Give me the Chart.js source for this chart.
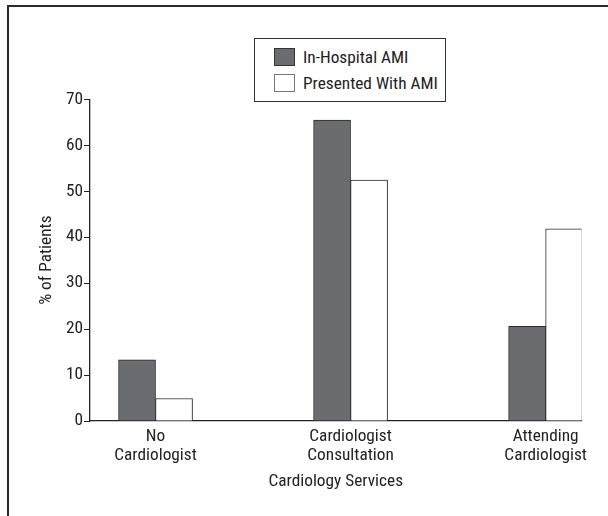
<!DOCTYPE html>
<html lang="en">
<head>
    <meta charset="UTF-8">
    <title>Cardiology Services</title>
    <style>
        body {
            margin: 0;
            background-color: #ffffff;
        }
        .wrap {
            position: relative;
            width: 608px;
            height: 516px;
            overflow: hidden;
        }
        .frame {
            position: absolute;
            left: 7px;
            top: 5px;
            width: 700px;
            height: 600px;
            border-top: 2px solid #2a2a2a;
            border-left: 2px solid #2a2a2a;
        }
        .legend-box {
            position: absolute;
            left: 254px;
            top: 38px;
            width: 190px;
            height: 62px;
            border: 1px solid #333;
            background: #fff;
            font-family: 'Roboto Condensed', Roboto, sans-serif;
            font-stretch: condensed;
            font-size: 17.3px;
            color: #222;
        }
        .legend-item {
            position: absolute;
            left: 19px;
            height: 19px;
            line-height: 19px;
            white-space: nowrap;
        }
        .legend-item span {
            display: inline-block;
            width: 21px;
            height: 18px;
            vertical-align: top;
            margin-right: 8px;
            box-sizing: border-box;
        }
        canvas {
            position: absolute;
            left: 0;
            top: 0;
        }
    </style>
    <script src="https://cdn.jsdelivr.net/npm/chart.js"></script>
</head>
<body>
    <div class="wrap">
        <div class="frame"></div>
        <canvas id="barChart" width="608" height="516"></canvas>
        <div id="legendBox" class="legend-box"></div>
    </div>
    <script>
        // datos
        const categories = [['No', 'Cardiologist'], ['Cardiologist', 'Consultation'], ['Attending', 'Cardiologist']];
        const inHospitalAMI = [13.3, 65.5, 20.6];
        const presentedWithAMI = [4.9, 52.4, 41.8];
        const seriesNames = ['In-Hospital AMI', 'Presented With AMI'];
        const yTicks = [0, 10, 20, 30, 40, 50, 60, 70];

        Chart.defaults.font.family = "'Roboto Condensed', Roboto, sans-serif";
        Chart.defaults.color = '#222';

        const toPoints = (vals) => vals.map((v, i) => ({ x: i, y: v }));

        const data = {
            datasets: [{
                label: seriesNames[0],
                data: toPoints(inHospitalAMI),
                backgroundColor: '#6b6c70',
                borderColor: '#2b2b2b',
                borderWidth: 1
            }, {
                label: seriesNames[1],
                data: toPoints(presentedWithAMI),
                backgroundColor: '#ffffff',
                borderColor: '#2b2b2b',
                borderWidth: 1
            }]
        };

        const config = {
            type: 'bar',
            data: data,
            options: {
                responsive: false,
                animation: false,
                layout: {
                    padding: { left: 0, right: 26.5, top: 99.3, bottom: 0 }
                },
                datasets: {
                    bar: { barThickness: 37, grouped: true }
                },
                plugins: {
                    legend: { display: false },
                    tooltip: { enabled: true }
                },
                scales: {
                    x: {
                        type: 'linear',
                        offset: false,
                        min: -0.336,
                        max: 2.184,
                        afterBuildTicks: (scale) => {
                            scale.ticks = categories.map((c, i) => ({ value: i }));
                        },
                        afterFit: (scale) => { scale.height = 95; },
                        grid: { display: true, drawOnChartArea: false, drawTicks: false },
                        border: { display: true, color: '#222', width: 1.3 },
                        ticks: {
                            font: { size: 17.3, lineHeight: 1.07 },
                            padding: 6.5,
                            maxRotation: 0,
                            autoSkip: false,
                            callback: (value) => categories[value]
                        },
                        title: {
                            display: true,
                            text: 'Cardiology Services',
                            font: { size: 17.3, lineHeight: 1.0 },
                            padding: { top: 26, bottom: 26 }
                        }
                    },
                    y: {
                        min: 0,
                        max: 70,
                        afterBuildTicks: (scale) => {
                            scale.ticks = yTicks.map(v => ({ value: v }));
                        },
                        afterFit: (scale) => { scale.width = 90; },
                        grid: { display: true, drawOnChartArea: false, drawTicks: true, tickLength: 6, color: '#222', lineWidth: 1 },
                        border: { display: true, color: '#222', width: 1.3 },
                        ticks: {
                            font: { size: 17.3 },
                            padding: 1
                        },
                        title: {
                            display: true,
                            text: '% of Patients',
                            font: { size: 17.3, lineHeight: 1.0 },
                            padding: { top: 38.5, bottom: 38.5 }
                        }
                    }
                }
            }
        };

        const chart = new Chart(document.getElementById('barChart'), config);

        // leyenda con recuadro, hecha a mano
        const legendBox = document.getElementById('legendBox');
        chart.data.datasets.forEach((ds, i) => {
            const item = document.createElement('div');
            item.className = 'legend-item';
            item.style.top = (9 + i * 26) + 'px';
            const sw = document.createElement('span');
            sw.style.background = ds.backgroundColor;
            sw.style.border = '1px solid ' + (i === 0 ? '#333' : '#777');
            item.appendChild(sw);
            item.appendChild(document.createTextNode(ds.label));
            legendBox.appendChild(item);
        });
    </script>
</body>
</html>
